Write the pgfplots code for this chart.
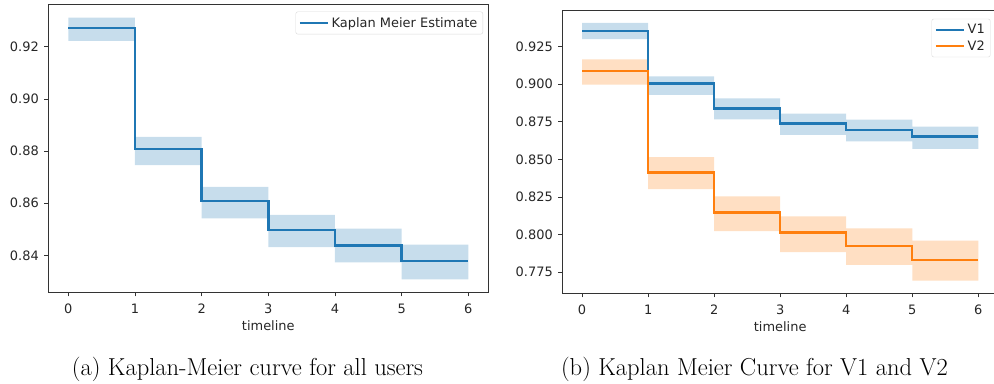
\documentclass[border=0pt]{standalone}
\usepackage{fontspec}
\usepackage{pgfplots}
\pgfplotsset{compat=1.18}
\usepgfplotslibrary{fillbetween}
\newfontfamily\dejavu{DejaVu Sans}
\definecolor{tabblue}{HTML}{1F77B4}
\definecolor{taborange}{HTML}{FF7F0E}
\definecolor{spine}{HTML}{333333}
\definecolor{ticklab}{HTML}{262626}
\begin{document}
\begin{tikzpicture}[x=1bp,y=1bp]
\pgfplotsset{
  kmstyle/.style={
    scale only axis,
    axis line style={spine, line width=0.9bp},
    tick style={spine, line width=0.9bp},
    tick align=outside,
    major tick length=4bp,
    xtick pos=bottom, ytick pos=left,
    xmin=-0.3, xmax=6.3,
    xtick={0,1,2,3,4,5,6},
    tick label style={font=\dejavu\fontsize{13}{15}\selectfont, text=ticklab},
    xticklabel style={yshift=-4bp},
    yticklabel style={xshift=-2bp},
    /pgf/number format/assume math mode=true,
    xlabel={timeline},
    xlabel style={font=\dejavu\fontsize{13}{15}\selectfont, text=ticklab, yshift=0bp},
    legend style={font=\dejavu\fontsize{13}{15}\selectfont, draw=black!15, rounded corners=2bp, text=ticklab,
      inner xsep=3bp, inner ysep=3bp, nodes={inner sep=2.5bp}},
    legend cell align=left,
    legend image code/.code={\draw[##1, line width=2.4bp] (0bp,0bp) -- (28bp,0bp);},
  }
}
% Left axis
\begin{axis}[kmstyle,
  at={(48.3bp,91.7bp)}, anchor=south west,
  width=440bp, height=287.6bp,
  ymin=0.8258, ymax=0.9362,
  ytick={0.84,0.86,0.88,0.90,0.92},
  yticklabel style={/pgf/number format/.cd, fixed, fixed zerofill, precision=2},
  legend style={at={(0.988,0.976)}, anchor=north east},
]
\addplot[const plot, draw=none, name path=au, forget plot] coordinates {(0,0.9312)(1,0.8855)(2,0.8663)(3,0.8555)(4,0.8502)(5,0.8441)(6,0.8441)};
\addplot[const plot, draw=none, name path=al, forget plot] coordinates {(0,0.9223)(1,0.8746)(2,0.8542)(3,0.8431)(4,0.8373)(5,0.8308)(6,0.8308)};
\addplot[tabblue, fill opacity=0.25, draw opacity=0.3, forget plot] fill between[of=au and al];
\addplot[const plot, tabblue, line width=2.4bp] coordinates {(0,0.9272)(1,0.8807)(2,0.8608)(3,0.8496)(4,0.8437)(5,0.8377)(6,0.8377)};
\addlegendentry{Kaplan Meier Estimate}
\end{axis}
% Right axis
\begin{axis}[kmstyle,
  at={(562.3bp,90.7bp)}, anchor=south west,
  width=435.8bp, height=283bp,
  ymin=0.7610, ymax=0.9492,
  ytick={0.775,0.800,0.825,0.850,0.875,0.900,0.925},
  yticklabel style={/pgf/number format/.cd, fixed, fixed zerofill, precision=3},
  legend style={at={(0.9825,0.97)}, anchor=north east},
]
\addplot[const plot, draw=none, name path=bu, forget plot] coordinates {(0,0.9408)(1,0.9053)(2,0.8907)(3,0.8805)(4,0.8765)(5,0.8718)(6,0.8718)};
\addplot[const plot, draw=none, name path=bl, forget plot] coordinates {(0,0.9301)(1,0.8929)(2,0.8767)(3,0.8663)(4,0.8621)(5,0.8570)(6,0.8570)};
\addplot[tabblue, fill opacity=0.25, draw opacity=0.3, forget plot] fill between[of=bu and bl];
\addplot[const plot, draw=none, name path=cu, forget plot] coordinates {(0,0.9166)(1,0.8516)(2,0.8255)(3,0.8122)(4,0.8042)(5,0.7961)(6,0.7961)};
\addplot[const plot, draw=none, name path=cl, forget plot] coordinates {(0,0.8998)(1,0.8303)(2,0.8024)(3,0.7883)(4,0.7799)(5,0.7695)(6,0.7695)};
\addplot[taborange, fill opacity=0.25, draw opacity=0.3, forget plot] fill between[of=cu and cl];
\addplot[const plot, tabblue, line width=2.4bp] coordinates {(0,0.9356)(1,0.9004)(2,0.8840)(3,0.8739)(4,0.8697)(5,0.8652)(6,0.8652)};
\addlegendentry{V1}
\addplot[const plot, taborange, line width=2.4bp] coordinates {(0,0.9090)(1,0.8414)(2,0.8146)(3,0.8013)(4,0.7925)(5,0.7832)(6,0.7832)};
\addlegendentry{V2}
\end{axis}
\node[anchor=base west, inner sep=0pt, font=\fontsize{24.6}{29}\selectfont] at (71.7bp,9bp) {(a) Kaplan-Meier curve for all users};
\node[anchor=base east, inner sep=0pt, font=\fontsize{24.6}{29}\selectfont] at (948bp,9bp) {(b) Kaplan Meier Curve for V1 and V2};
\pgfresetboundingbox
\path[use as bounding box] (0bp,0bp) rectangle (994bp,384bp);
\end{tikzpicture}
\end{document}
